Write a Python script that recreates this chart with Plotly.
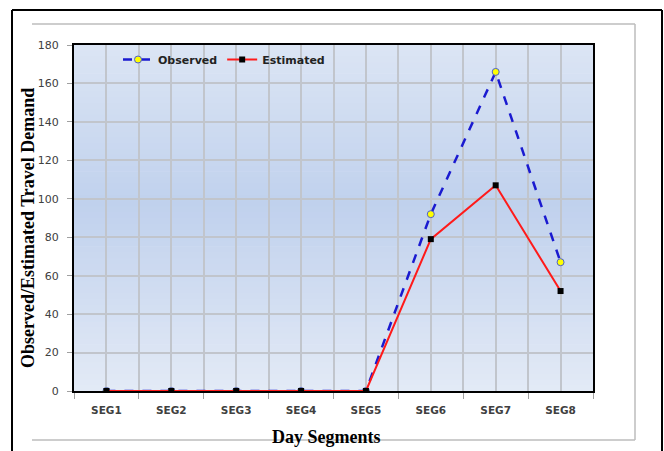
import plotly.graph_objects as go
import numpy as np

segments = ["SEG1", "SEG2", "SEG3", "SEG4", "SEG5", "SEG6", "SEG7", "SEG8"]
observed = [0, 0, 0, 0, 0, 92, 166, 67]
estimated = [0, 0, 0, 0, 0, 79, 107, 52]
y_ticks = [0, 20, 40, 60, 80, 100, 120, 140, 160, 180]

W, H = 664, 451
L, R, T, B = 74, 71, 45, 60
PW, PH = W - L - R, H - T - B


def px(x):
    return (x - L) / PW


def py(y):
    return (H - B - y) / PH


fig = go.Figure()
fig.add_trace(go.Scatter(
    x=segments, y=observed, name="Observed", mode="lines+markers",
    line=dict(color="#1a1ad0", width=2.5, dash="dash"),
    marker=dict(symbol="circle", size=7, color="#ffff00", line=dict(color="#4b5fd0", width=1)),
))
fig.add_trace(go.Scatter(
    x=segments, y=estimated, name="Estimated", mode="lines+markers",
    line=dict(color="#ff1a1a", width=2),
    marker=dict(symbol="square", size=6, color="#000000"),
))
# invisible trace for centre gridlines axis
fig.add_trace(go.Scatter(x=segments, y=observed, xaxis="x2", mode="none",
                         showlegend=False, hoverinfo="skip"))

shapes = []
# gradient background
n = 60
top = np.array([0xdc, 0xe5, 0xf4])
mid = np.array([0xc0, 0xd1, 0xed])
bot = np.array([0xe3, 0xea, 0xf6])
midpos = 0.54
for i in range(n):
    f0, f1 = i / n, (i + 1) / n
    fc = (f0 + f1) / 2
    if fc < midpos:
        c = bot + (mid - bot) * (fc / midpos)
    else:
        c = mid + (top - mid) * ((fc - midpos) / (1 - midpos))
    col = "rgb(%d,%d,%d)" % tuple(int(round(v)) for v in c)
    shapes.append(dict(type="rect", xref="paper", yref="paper", x0=0, x1=1,
                       y0=f0, y1=f1 + 0.002, line=dict(width=0), fillcolor=col, layer="below"))

# inner grey frame
g = dict(color="#bdbdbd", width=1.5)
shapes.append(dict(type="line", xref="paper", yref="paper", x0=px(32), x1=px(635), y0=py(24), y1=py(24), line=g))
shapes.append(dict(type="line", xref="paper", yref="paper", x0=px(635), x1=px(635), y0=py(24), y1=py(440), line=g))
shapes.append(dict(type="line", xref="paper", yref="paper", x0=px(32), x1=px(635), y0=py(440), y1=py(440), line=g))
# outer black frame
k = dict(color="#000000", width=2)
shapes.append(dict(type="line", xref="paper", yref="paper", x0=px(12), x1=px(12), y0=py(10), y1=py(455), line=k))
shapes.append(dict(type="line", xref="paper", yref="paper", x0=px(12), x1=px(662), y0=py(10), y1=py(10), line=k))
shapes.append(dict(type="line", xref="paper", yref="paper", x0=px(662), x1=px(662), y0=py(10), y1=py(455), line=k))

annotations = [
    dict(text="<b>Observed/Estimated Travel Demand</b>", xref="paper", yref="paper",
         x=px(28), y=py(228), xanchor="center", yanchor="middle", textangle=-90, showarrow=False,
         font=dict(family="Liberation Serif", size=18, color="#000000")),
    dict(text="<b>Day Segments</b>", xref="paper", yref="paper",
         x=px(326), y=py(437), xanchor="center", yanchor="middle", showarrow=False,
         font=dict(family="Liberation Serif", size=18, color="#000000")),
]

fig.update_layout(
    width=W, height=H,
    margin=dict(l=L, r=R, t=T, b=B),
    paper_bgcolor="#ffffff",
    plot_bgcolor="rgba(0,0,0,0)",
    shapes=shapes,
    annotations=annotations,
    showlegend=True,
    legend=dict(orientation="h", x=px(118), y=py(45), xanchor="left", yanchor="top",
                bgcolor="rgba(0,0,0,0)", font=dict(family="DejaVu Sans", size=11, color="#222222", weight="bold"),
                itemwidth=30, tracegroupgap=0),
    xaxis=dict(type="category", categoryorder="array", categoryarray=segments,
               range=[-0.5, 7.5], tickson="boundaries", ticks="outside", ticklen=6,
               tickcolor="#a0a0a0", showgrid=True, gridcolor="#c1c5cc", gridwidth=1.5,
               showline=True, linecolor="#000000", linewidth=2, mirror=True,
               tickfont=dict(family="DejaVu Sans", size=10.5, color="#404040", weight="bold"),
               zeroline=False, fixedrange=True, ticklabelstandoff=8),
    xaxis2=dict(type="category", categoryorder="array", categoryarray=segments,
                range=[-0.5, 7.5], overlaying="x", showgrid=True, gridcolor="#c1c5cc",
                gridwidth=1.5, showticklabels=False, ticks="", showline=False, zeroline=False),
    yaxis=dict(range=[0, 180], tickvals=y_ticks, ticks="outside", ticklen=5,
               tickcolor="#a0a0a0", showgrid=True, gridcolor="#c1c5cc", gridwidth=1.5,
               showline=True, linecolor="#000000", linewidth=2, mirror=True,
               tickfont=dict(family="DejaVu Sans", size=11, color="#404040"),
               zeroline=False, ticklabelstandoff=6),
)

fig.write_html("out.html")
